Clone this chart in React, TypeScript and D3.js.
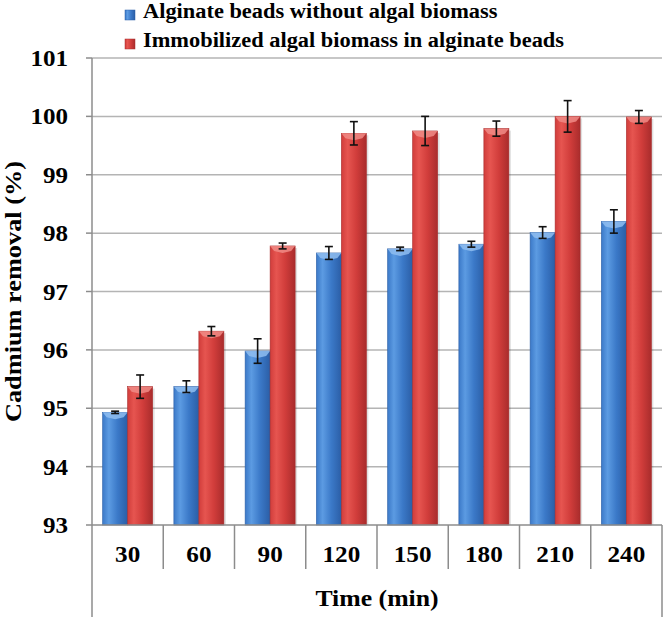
import React from 'react';
import * as d3 from 'd3';

const TIMES = ['30', '60', '90', '120', '150', '180', '210', '240'];
const SERIES = ['Alginate beads without algal biomass', 'Immobilized algal biomass in alginate beads'];
const BEADS = [94.93, 95.37, 95.98, 97.66, 97.73, 97.81, 98.01, 98.2];
const BEADS_ERR = [0.02, 0.1, 0.21, 0.11, 0.03, 0.05, 0.1, 0.2];
const ALGAE = [95.37, 96.32, 97.78, 99.71, 99.75, 99.79, 100.0, 99.99];
const ALGAE_ERR = [0.2, 0.08, 0.05, 0.2, 0.25, 0.13, 0.27, 0.11];
const Y_TICKS = [93, 94, 95, 96, 97, 98, 99, 100, 101];

const W = 666;
const H = 617;
const margin = { top: 58, right: 4, bottom: 92, left: 92 };
const FONT = '"Liberation Serif", "Times New Roman", serif';
const STRETCH = 1.12; // the reference type looks a little wide

const COLORS = [
  { light: '#5c9be2', mid: '#3b79c8', dark: '#2b5ea6', bevel: '#8fbdf0' },
  { light: '#e65550', mid: '#d13d3b', dark: '#a92c2c', bevel: '#f08b86' },
];

// bold serif text, stretched horizontally around its anchor
const T = ({ x, y, size, anchor = 'start', rotate = 0, children }: any) => (
  <text
    transform={`translate(${x},${y}) rotate(${rotate}) scale(${STRETCH},1)`}
    textAnchor={anchor}
    fontFamily={FONT}
    fontWeight="bold"
    fontSize={size}
    fill="#000"
  >
    {children}
  </text>
);

export default function App() {
  const x0 = d3.scaleBand<string>().domain(TIMES).range([margin.left, W - margin.right]).paddingInner(0);
  const x1 = d3.scaleBand<number>().domain([0, 1]).range([0, x0.bandwidth()]).paddingInner(0).paddingOuter(0.425);
  const y = d3.scaleLinear().domain([93, 101]).range([H - margin.bottom, margin.top]);
  const base = y(93);
  const data = [
    { vals: BEADS, errs: BEADS_ERR },
    { vals: ALGAE, errs: ALGAE_ERR },
  ];
  const right = W - margin.right;

  return (
    <svg width={W} height={H} style={{ position: 'absolute', left: 0, top: 0, background: '#fff' }}>
      <defs>
        {COLORS.map((c, i) => (
          <linearGradient key={i} id={`g${i}`} x1="0" x2="1" y1="0" y2="0">
            <stop offset="0%" stopColor={c.mid} />
            <stop offset="25%" stopColor={c.light} />
            <stop offset="60%" stopColor={c.mid} />
            <stop offset="100%" stopColor={c.dark} />
          </linearGradient>
        ))}
      </defs>

      {/* legend */}
      {SERIES.map((s, i) => (
        <g key={s}>
          <rect x={125} y={10 + i * 29} width={10} height={10} fill={`url(#g${i})`} stroke={COLORS[i].dark} strokeWidth={0.5} />
          <T x={143} y={18 + i * 29} size={20}>{s}</T>
        </g>
      ))}

      {/* grid + y ticks */}
      {Y_TICKS.map(t => (
        <g key={t}>
          {t > 93 && <line x1={margin.left} x2={right} y1={y(t)} y2={y(t)} stroke="#b4b4b4" strokeWidth={1.5} />}
          <line x1={margin.left - 6} x2={margin.left} y1={y(t)} y2={y(t)} stroke="#8c8c8c" strokeWidth={1.5} />
          <T x={68} y={y(t) + 8} size={22.4} anchor="end">{t}</T>
        </g>
      ))}

      {/* bars */}
      {data.map((d, si) =>
        TIMES.map((t, i) => {
          const bx = (x0(t) as number) + (x1(si) as number);
          const bw = x1.bandwidth();
          const top = y(d.vals[i]);
          return (
            <g key={`${si}-${t}`}>
              <rect x={bx + 2} y={top + 2} width={bw} height={base - top - 2} fill="#000" opacity={0.12} />
              <rect x={bx} y={top} width={bw} height={base - top} fill={`url(#g${si})`} stroke={COLORS[si].dark} strokeWidth={0.6} />
              <polygon
                points={`${bx},${top} ${bx + bw},${top} ${bx + bw - 4},${top + 5} ${bx + bw / 2},${top + 7} ${bx + 4},${top + 5}`}
                fill={COLORS[si].bevel}
                opacity={0.85}
              />
            </g>
          );
        })
      )}

      {/* error bars */}
      {data.map((d, si) =>
        TIMES.map((t, i) => {
          const cx = (x0(t) as number) + (x1(si) as number) + x1.bandwidth() / 2;
          const hi = y(d.vals[i] + d.errs[i]);
          const lo = y(d.vals[i] - d.errs[i]);
          return (
            <g key={`e${si}-${t}`} stroke="#111" strokeWidth={1.6}>
              <line x1={cx} x2={cx} y1={hi} y2={lo} />
              <line x1={cx - 4} x2={cx + 4} y1={hi} y2={hi} />
              <line x1={cx - 4} x2={cx + 4} y1={lo} y2={lo} />
            </g>
          );
        })
      )}

      {/* axes frame */}
      <line x1={margin.left} x2={margin.left} y1={margin.top} y2={H} stroke="#8c8c8c" strokeWidth={1.5} />
      <line x1={margin.left} x2={right} y1={base} y2={base} stroke="#8c8c8c" strokeWidth={1.5} />
      <line x1={right} x2={right} y1={base} y2={H} stroke="#8c8c8c" strokeWidth={1.5} />
      {TIMES.slice(1).map(t => (
        <line key={t} x1={x0(t)} x2={x0(t)} y1={base} y2={base + 44} stroke="#8c8c8c" strokeWidth={1.5} />
      ))}

      {/* x labels */}
      {TIMES.map(t => (
        <T key={t} x={(x0(t) as number) + x0.bandwidth() / 2} y={base + 37} size={22.5} anchor="middle">{t}</T>
      ))}
      <T x={(margin.left + right) / 2} y={606} size={23} anchor="middle">Time (min)</T>

      <T x={21} y={(margin.top + base) / 2} size={23.5} anchor="middle" rotate={-90}>Cadmium removal (%)</T>
    </svg>
  );
}
